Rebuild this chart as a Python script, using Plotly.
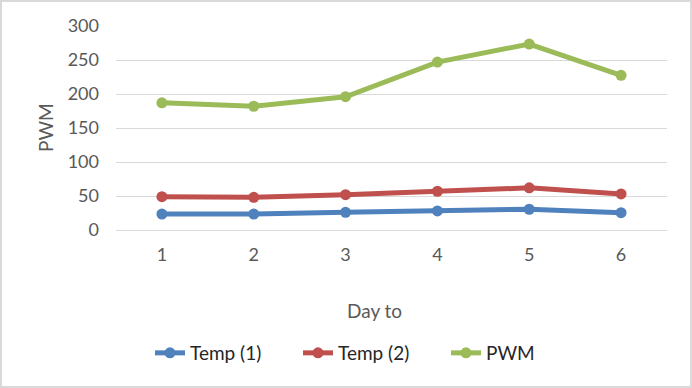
import plotly.graph_objects as go

days = [1, 2, 3, 4, 5, 6]
temp1 = [23.5, 23.5, 26, 28, 30.5, 25.5]
temp2 = [49, 48, 52, 57, 62, 53]
pwm = [187, 182, 196, 247, 273.5, 227.5]
y_ticks = [0, 50, 100, 150, 200, 250, 300]

W, H = 692, 388
L, R, T, B = 116, 25, 26, 158
FONT = "Lato"

fig = go.Figure()
for name, vals, col in [("Temp (1)", temp1, "#4f81bd"),
                        ("Temp (2)", temp2, "#c0504d"),
                        ("PWM", pwm, "#9bbb59")]:
    fig.add_trace(go.Scatter(x=days, y=vals, name=name, mode="lines+markers",
                             line=dict(color=col, width=5),
                             marker=dict(color=col, size=11)))

pw = W - L - R
ph = H - T - B
fig.add_shape(type="rect", xref="paper", yref="paper",
              x0=(-L + 1) / pw, x1=(pw + R - 1) / pw,
              y0=(-B + 1) / ph, y1=(ph + T - 1) / ph,
              line=dict(color="#d9d9d9", width=2), layer="below")

# axis titles
fig.add_annotation(text="Day to", xref="paper", yref="paper",
                   x=(374 - L) / pw, y=-(310 - (T + ph)) / ph,
                   showarrow=False, font=dict(size=19, color="#595959", family=FONT),
                   xanchor="center", yanchor="middle")
fig.add_annotation(text="PWM", xref="paper", yref="paper",
                   x=(45 - L) / pw, y=(T + ph - 128) / ph, textangle=-90,
                   showarrow=False, font=dict(size=19, color="#595959", family=FONT),
                   xanchor="center", yanchor="middle")

fig.update_layout(
    width=W, height=H,
    margin=dict(l=L, r=R, t=T, b=B),
    paper_bgcolor="white", plot_bgcolor="white",
    font=dict(family=FONT, color="#595959", size=18),
    xaxis=dict(range=[0.5, 6.5], tickvals=days, showgrid=False, zeroline=False,
               showline=False, ticks="", tickfont=dict(size=18), automargin=False,
               ticklabelstandoff=12),
    yaxis=dict(range=[0, 300], tickvals=y_ticks, showgrid=True, gridcolor="#d9d9d9",
               gridwidth=1, zeroline=True, zerolinecolor="#d9d9d9", zerolinewidth=1,
               ticks="", tickfont=dict(size=18), ticklabelstandoff=16, automargin=False),
    legend=dict(orientation="h", x=(372 - L) / pw, xanchor="center",
                y=-(353 - (T + ph)) / ph, yanchor="middle",
                entrywidth=103, entrywidthmode="pixels",
                font=dict(size=19, color="#262626", family=FONT)),
    showlegend=True,
)
fig.write_html("out.html", config={"displayModeBar": False},
               post_script="document.body.style.margin='0';document.body.style.overflow='hidden';")
